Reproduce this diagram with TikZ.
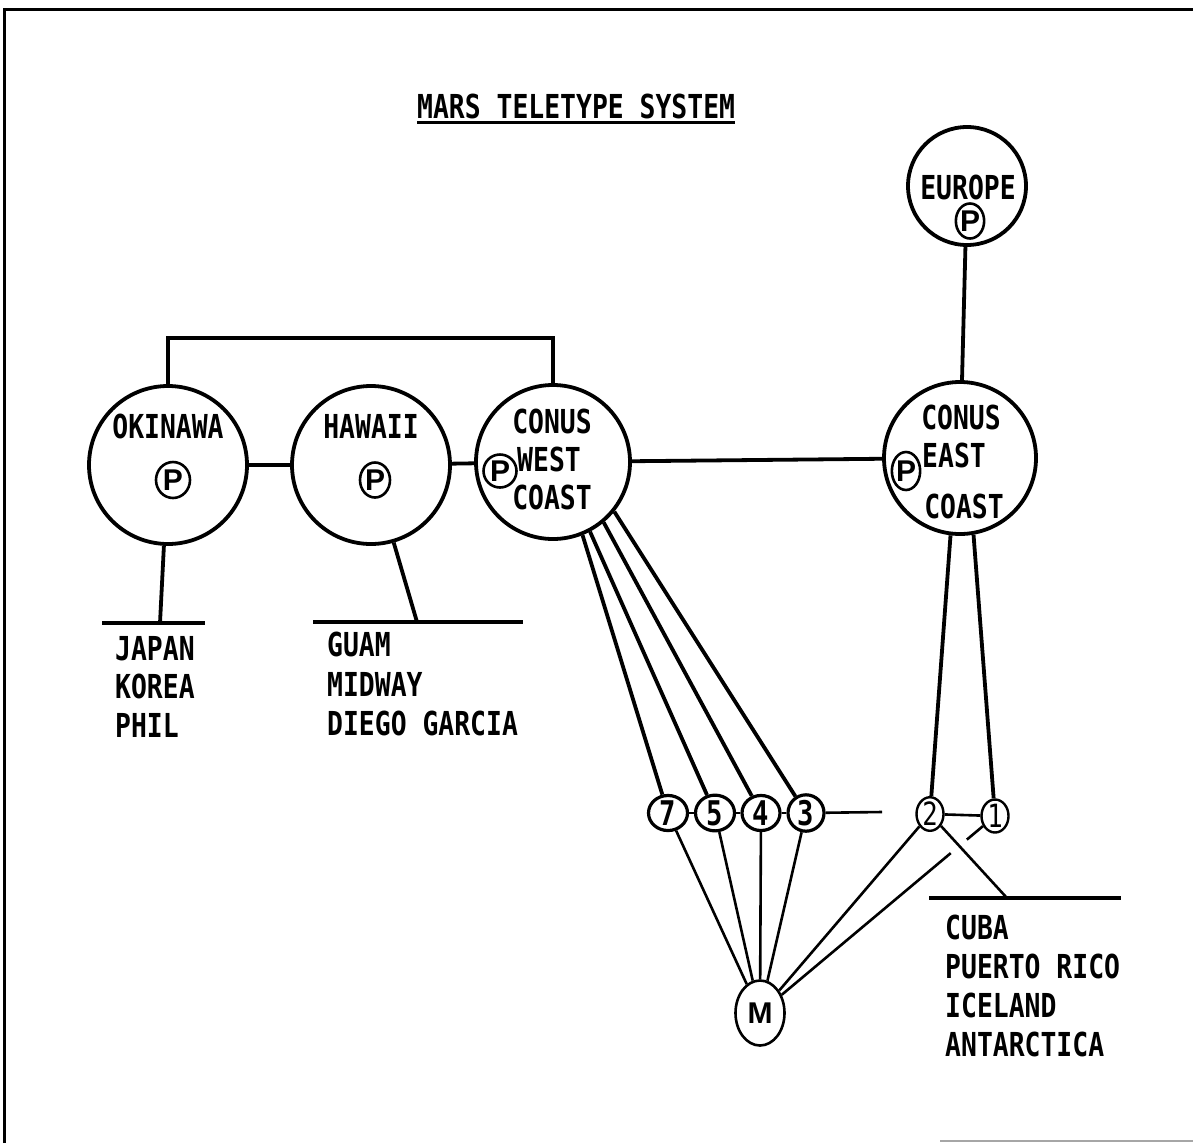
\documentclass[tikz,border=0pt]{standalone}
\usepackage{fontspec}
\usetikzlibrary{shapes.geometric}
\newfontfamily\tfont{DejaVu Sans Mono}[FakeStretch=0.80]
\newfontfamily\pfont{Liberation Sans}
\begin{document}
\begin{tikzpicture}[x=1pt,y=-1pt,
  site/.style={circle, draw, line width=3.8pt, inner sep=0pt, minimum size=#1},
  pm/.style n args={2}{ellipse, draw, line width=2.6pt, inner sep=0pt, minimum width=#1, minimum height=#2, font=\pfont\bfseries\fontsize{30}{30}\selectfont},
  num/.style n args={2}{ellipse, draw, line width=3.2pt, inner sep=0pt, minimum width=#1, minimum height=#2, font=\tfont\bfseries\fontsize{34}{34}\selectfont},
  lbl/.style={inner sep=0pt, font=\tfont\bfseries\fontsize{33}{33}\selectfont},
  lst/.style={lbl, anchor=base west},
  link/.style={line width=3.8pt},
  thinlink/.style={line width=2.6pt},
  frame/.style={line width=3pt}
]
\useasboundingbox (0,0) rectangle (1193,1143);
% frame
\coordinate (f2) at (1193,9);
\coordinate (f3) at (4,1143);
\coordinate (f4) at (940,1141);
\coordinate (f5) at (1193,1141);
\draw[frame] (f3) -- (4,9) -- (f2);
\draw[line width=1.5pt, black!35] (f4) -- (f5);

% title
\node[lbl, anchor=base west] (title) at (417,118) {MARS TELETYPE SYSTEM};
\draw[line width=3pt] ([yshift=-4pt]title.base west) -- ([yshift=-4pt]title.base east);

% main sites
\node[site=158pt] (ok) at (168,465) {};
\node[site=158pt] (hw) at (371,465) {};
\node[site=154pt] (wc) at (553,462) {};
\node[site=152pt] (ec) at (960,458) {};
\node[site=118pt] (eu) at (967,186) {};

% site texts
\node[lbl] (okt) at (168,426) {OKINAWA};
\node[lbl] (hwt) at (371,426) {HAWAII};
\node[lbl] (wct1) at (552,421) {CONUS};
\node[lbl] (wct2) at (549,459) {WEST};
\node[lbl] (wct3) at (552,497) {COAST};
\node[lbl] (ect1) at (961,417) {CONUS};
\node[lbl] (ect2) at (954,455) {EAST};
\node[lbl] (ect3) at (964,506) {COAST};
\node[lbl] (eut) at (968,187) {EUROPE};

% P marks
\node[pm={34pt}{36pt}] (okp) at (173,480) {P};
\node[pm={30pt}{35pt}] (hwp) at (375,480) {P};
\node[pm={33pt}{33pt}] (wcp) at (500,471) {P};
\node[pm={28pt}{38pt}] (ecp) at (906,471) {P};
\node[pm={27pt}{35pt}] (eup) at (970,221) {P};

% links between sites
\draw[link] (ok) -- (hw);
\draw[link] (hw) -- (wc);
\draw[link] (wc) -- (ec);
\draw[link] (eu) -- (ec);
\draw[link] (ok.north) -- ++(0,-46) -| (wc.north);

% Okinawa tributaries
\coordinate (okb) at (160,623);
\coordinate (okbl) at (102,623);
\coordinate (okbr) at (205,623);
\draw[link] (ok) -- (okb);
\draw[link] (okbl) -- (okbr);
\node[lst] (jp) at (115,660) {JAPAN};
\node[lst] (kr) at (115,698) {KOREA};
\node[lst] (ph) at (115,737) {PHIL};

% Hawaii tributaries
\coordinate (hwb) at (417,622);
\coordinate (hwbl) at (313,622);
\coordinate (hwbr) at (523,622);
\draw[link] (hw) -- (hwb);
\draw[link] (hwbl) -- (hwbr);
\node[lst] (gu) at (327,656) {GUAM};
\node[lst] (mi) at (327,696) {MIDWAY};
\node[lst] (dg) at (327,735) {DIEGO GARCIA};

% numbered stations
\node[num={39pt}{35pt}] (n7) at (668,813) {7};
\node[num={39pt}{35pt}] (n5) at (715,813) {5};
\node[num={38pt}{35pt}] (n4) at (761,813) {4};
\node[num={36pt}{35pt}] (n3) at (806,813) {3};
\node[num={27pt}{33pt}, line width=2.4pt, font=\tfont\fontsize{32}{32}\selectfont] (n2) at (930,814) {2};
\node[num={27pt}{33pt}, line width=2.4pt, font=\tfont\fontsize{32}{32}\selectfont] (n1) at (995,816) {1};
\coordinate (n3e) at (882,812);

\draw[thinlink] (n7) -- (n5);
\draw[thinlink] (n5) -- (n4);
\draw[thinlink] (n4) -- (n3);
\draw[thinlink] (n3) -- (n3e);
\draw[thinlink] (n2) -- (n1);

% west coast trunks
\draw[link] (wc.-68) -- (n7);
\draw[link] (wc.-62) -- (n5);
\draw[link] (wc.-50) -- (n4);
\draw[link] (wc.-39) -- (n3);
% east coast trunks
\draw[link] (ec.-97.6) -- (n2);
\draw[link] (ec.-80) -- (n1);

% M
\node[ellipse, draw, line width=2.6pt, inner sep=0pt, minimum width=49pt, minimum height=65pt, font=\pfont\bfseries\fontsize{30}{30}\selectfont] (M) at (760,1013) {M};
\draw[thinlink] (n7) -- (M);
\draw[thinlink] (n5) -- (M);
\draw[thinlink] (n4) -- (M);
\draw[thinlink] (n3) -- (M);
\draw[thinlink] (n2) -- (M);
\path (n1) -- coordinate[pos=0.08] (g1) coordinate[pos=0.16] (g2) (M);
\draw[thinlink] (n1) -- (g1);
\draw[thinlink] (g2) -- (M);

% Caribbean tributaries
\coordinate (cb) at (1007,898);
\coordinate (cbl) at (929,898);
\coordinate (cbr) at (1121,898);
\draw[thinlink] (n2) -- (cb);
\draw[link] (cbl) -- (cbr);
\node[lst] (cu) at (945,939) {CUBA};
\node[lst] (pr) at (945,978) {PUERTO RICO};
\node[lst] (ic) at (945,1017) {ICELAND};
\node[lst] (an) at (945,1056) {ANTARCTICA};
\end{tikzpicture}
\end{document}
